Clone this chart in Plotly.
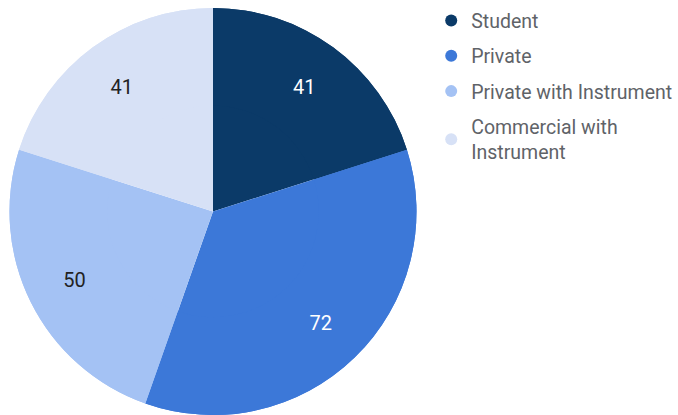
import plotly.graph_objects as go

categories = ["Student", "Private", "Private with Instrument", "Commercial with Instrument"]
legend_labels = ["Student", "Private", "Private with Instrument", "Commercial with<br>Instrument"]
values = [41, 72, 50, 41]
colors = ["#0b3a68", "#3c78d8", "#a4c2f4", "#d7e1f6"]
text_colors = ["#ffffff", "#ffffff", "#222222", "#222222"]

dom = dict(x=[0.014, 0.6143], y=[0, 0.9807])
fig = go.Figure()
# full pie (fills the centre)
fig.add_trace(go.Pie(
    labels=categories, values=values, sort=False, direction="clockwise", rotation=0,
    marker=dict(colors=colors, line=dict(width=0)),
    textinfo="none", showlegend=False, hoverinfo="skip", domain=dom,
))
# ring carrying the value labels at ~3/4 radius
fig.add_trace(go.Pie(
    labels=categories, values=values, sort=False, direction="clockwise", rotation=0,
    hole=0.52,
    marker=dict(colors=colors, line=dict(width=0)),
    textinfo="value", textposition="inside", insidetextorientation="horizontal",
    insidetextfont=dict(family="Roboto", size=20, color=text_colors),
    showlegend=False, domain=dom,
))
for i, (lab, col) in enumerate(zip(legend_labels, colors)):
    fig.add_trace(go.Scatter(
        x=[None], y=[None], mode="markers", name=lab, legendgroup=str(i),
        marker=dict(symbol="circle", size=15, color=col),
    ))

fig.update_layout(
    width=678, height=415, margin=dict(l=0, r=0, t=0, b=0),
    paper_bgcolor="white", plot_bgcolor="white",
    xaxis=dict(visible=False), yaxis=dict(visible=False),
    legend=dict(x=0.636, y=0.997, xanchor="left", yanchor="top",
                font=dict(family="Roboto", size=19.5, color="#5f6368"),
                tracegroupgap=7, itemsizing="constant", bgcolor="rgba(0,0,0,0)"),
)
fig.write_html("out.html")
